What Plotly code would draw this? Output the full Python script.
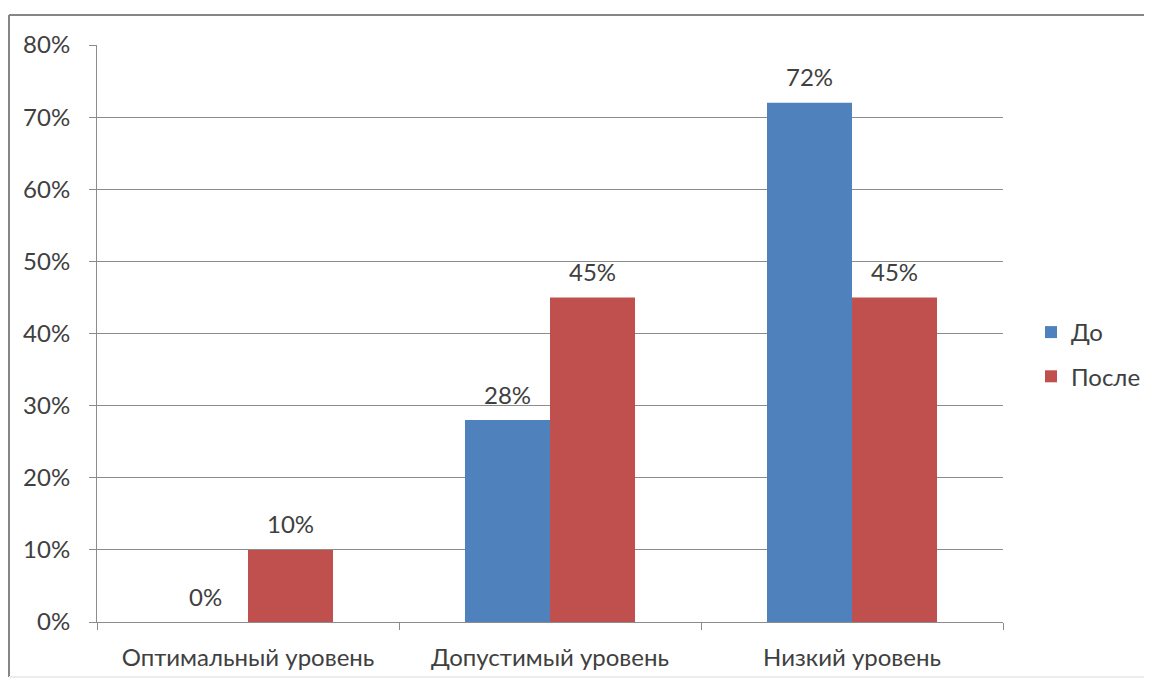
import plotly.graph_objects as go

categories = ["Оптимальный уровень", "Допустимый уровень", "Низкий уровень"]
series_names = ["До", "После"]
before = [0, 28, 72]
after = [10, 45, 45]
y_ticks = [0, 10, 20, 30, 40, 50, 60, 70, 80]
y_tick_labels = [f"{v}%" for v in y_ticks]

colors = ["#4F81BD", "#C0504D"]
font_family = "Lato, 'Open Sans', sans-serif"
text_color = "#404040"
axis_color = "#8c8c8c"
fsize = 24

# page offset (browser body margin)
OFF = 8
W, H = 1152, 682
# desired plot area in screen pixels
PX0, PX1, PY0, PY1 = 97, 1003, 45, 622
l = PX0 - OFF
t = PY0 - OFF
r = W - (PX1 - OFF)
b = H - (PY1 - OFF)
pw, ph = PX1 - PX0, PY1 - PY0

def px_x(x):
    return (x - PX0) / pw

def px_y(y):
    return (PY1 - y) / ph

bargap = 0.437
n_series = 2
bar_px = pw / len(categories) * (1 - bargap) / n_series

fig = go.Figure()
annotations = []
for j, (name, vals, col) in enumerate(zip(series_names, [before, after], colors)):
    fig.add_trace(go.Bar(
        x=categories, y=vals, name=name, legendgroup=name,
        marker=dict(color=col, line=dict(width=0)),
    ))
    for cat, v in zip(categories, vals):
        annotations.append(dict(
            x=cat, y=v, xref="x", yref="y", text=f"{v}%", showarrow=False,
            xshift=(j - (n_series - 1) / 2) * bar_px, yshift=26,
            xanchor="center", yanchor="middle",
            font=dict(size=fsize, color=text_color, family=font_family),
        ))

bx0, bx1, by0, by1 = px_x(9), px_x(1148), px_y(677), px_y(15)
border_shapes = [
    dict(type="line", xref="paper", yref="paper", x0=bx0, x1=bx1, y0=by1, y1=by1,
         line=dict(color="#868686", width=2), layer="below"),
    dict(type="line", xref="paper", yref="paper", x0=bx0, x1=bx0, y0=by0, y1=by1,
         line=dict(color="#868686", width=2), layer="below"),
    dict(type="line", xref="paper", yref="paper", x0=bx1, x1=bx1, y0=by0, y1=by1,
         line=dict(color="#ececec", width=2), layer="below"),
    dict(type="line", xref="paper", yref="paper", x0=bx0, x1=bx1, y0=by0, y1=by0,
         line=dict(color="#ececec", width=2), layer="below"),
]

fig.update_layout(
    width=W, height=H,
    margin=dict(l=l, r=r, t=t, b=b),
    paper_bgcolor="white", plot_bgcolor="white",
    barmode="group", bargap=bargap, bargroupgap=0,
    font=dict(family=font_family, size=fsize, color=text_color),
    legend=dict(x=px_x(1031), y=px_y(310), xanchor="left", yanchor="top",
                font=dict(size=fsize, color=text_color), itemwidth=30,
                traceorder="grouped", tracegroupgap=10,
                bgcolor="rgba(0,0,0,0)"),
    annotations=annotations,
    shapes=border_shapes,
)
fig.update_yaxes(range=[0, 80], tickvals=y_ticks, ticktext=y_tick_labels,
                 showgrid=True, gridcolor=axis_color, gridwidth=1,
                 showline=True, linecolor=axis_color, linewidth=1,
                 ticks="outside", ticklen=7, tickcolor=axis_color,
                 ticklabelstandoff=14,
                 tickfont=dict(size=fsize, color=text_color), zeroline=False)
fig.update_xaxes(showline=True, linecolor=axis_color, linewidth=1,
                 ticks="outside", ticklen=7, tickcolor=axis_color,
                 tickson="boundaries", showgrid=False, ticklabelstandoff=14,
                 tickfont=dict(size=fsize, color=text_color))

fig.write_html("out.html")
